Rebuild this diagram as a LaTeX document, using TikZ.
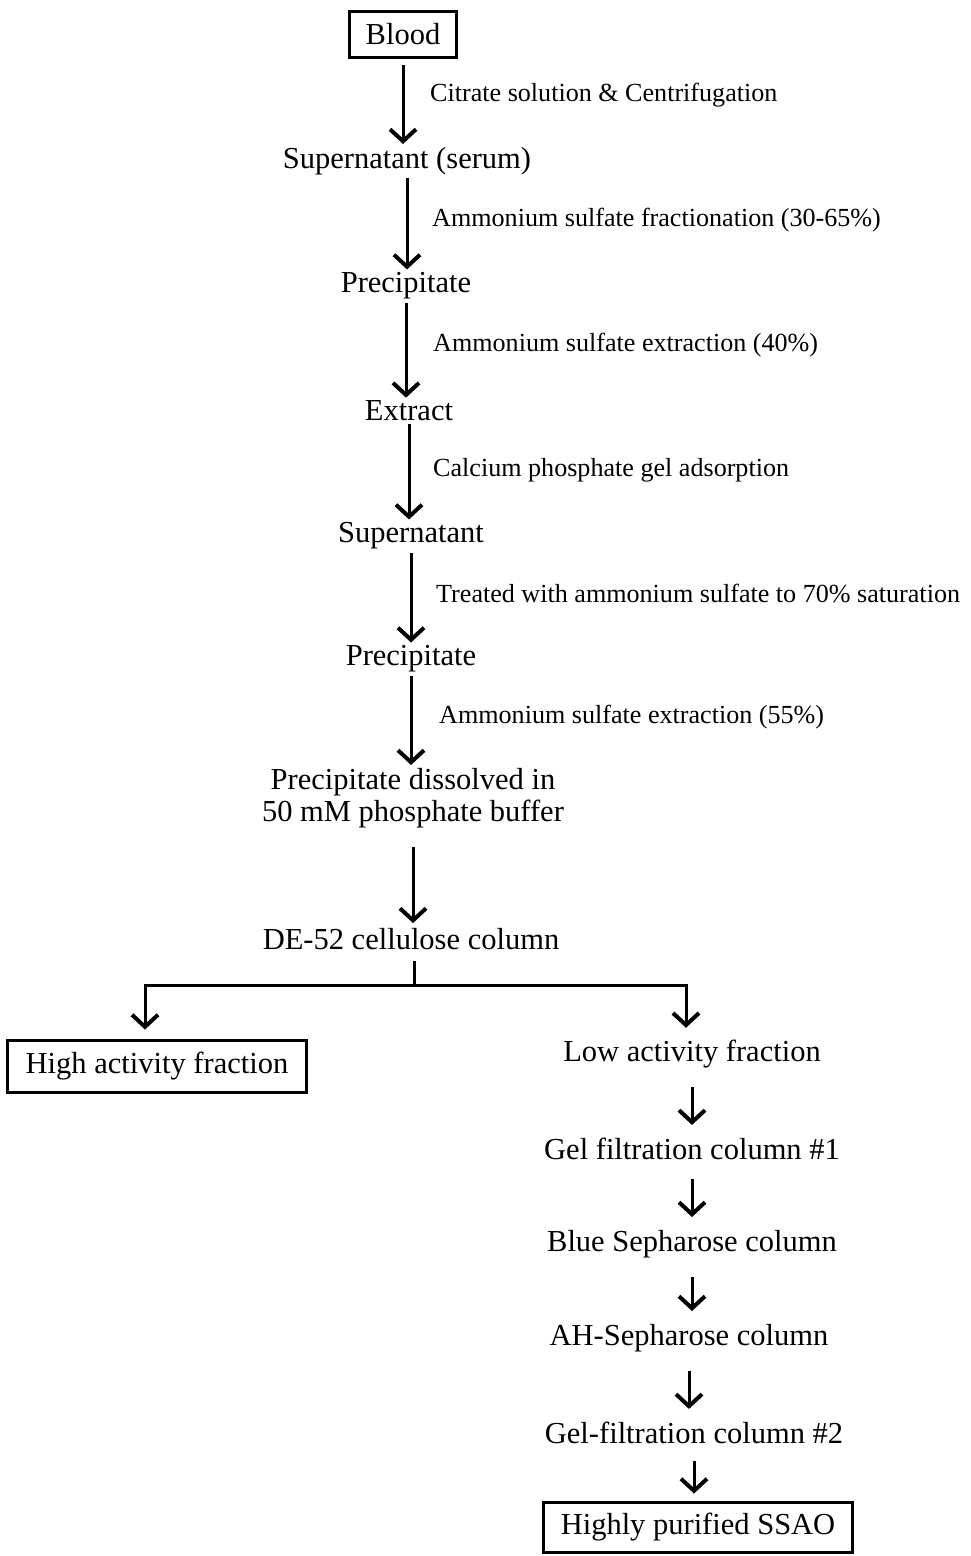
\documentclass[tikz,border=0pt]{standalone}
\usepackage{fontspec}
\setmainfont{Liberation Serif}
\usetikzlibrary{arrows.meta}
\pgfdeclarelayer{edgelayer}
\pgfdeclarelayer{nodelayer}
\pgfsetlayers{edgelayer,nodelayer,main}
\tikzstyle{none}=[inner sep=0pt]
\tikzstyle{stage}=[style=none, font=\fontsize{30.5}{32}\selectfont, align=center]
\tikzstyle{boxed}=[style=stage, draw, line width=3pt, inner xsep=16pt, minimum height=46pt]
\tikzstyle{treat}=[style=none, anchor=west, font=\fontsize{26.1}{30}\selectfont]
\tikzstyle{flow}=[line width=3pt, -{Straight Barb[length=12pt,width=26pt,line width=4pt]}, shorten <=3pt, shorten >=3pt]

\begin{document}
\begin{tikzpicture}[x=1pt,y=-1pt]
	\useasboundingbox (0,0) rectangle (970,1556);
	\begin{pgfonlayer}{nodelayer}
		\node [style=boxed] (0) at (403, 34) {Blood};
		\node [style=stage] (1) at (407, 161) {Supernatant (serum)};
		\node [style=stage] (2) at (406, 286) {Precipitate};
		\node [style=stage] (3) at (409, 411) {Extract};
		\node [style=stage] (4) at (411, 536) {Supernatant};
		\node [style=stage] (5) at (411, 659) {Precipitate};
		\node [style=stage] (6) at (413, 798) {Precipitate dissolved in\\50 mM phosphate buffer};
		\node [style=stage] (7) at (411, 939) {DE-52 cellulose column};
		\node [style=boxed, inner xsep=18pt, minimum height=52pt] (8) at (157, 1066) {High activity fraction};
		\node [style=stage] (9) at (692, 1054) {Low activity fraction};
		\node [style=stage] (10) at (692, 1149) {Gel filtration column \#1};
		\node [style=stage] (11) at (692, 1244) {Blue Sepharose column};
		\node [style=stage] (12) at (689, 1338) {AH-Sepharose column};
		\node [style=stage] (13) at (694, 1433) {Gel-filtration column \#2};
		\node [style=boxed, inner xsep=17pt, minimum height=50pt] (14) at (698, 1527) {Highly purified SSAO};
		\node [style=treat] (15) at (430, 95) {Citrate solution \& Centrifugation};
		\node [style=treat] (16) at (432, 220) {Ammonium sulfate fractionation (30-65\%)};
		\node [style=treat] (17) at (433, 345) {Ammonium sulfate extraction (40\%)};
		\node [style=treat] (18) at (433, 470) {Calcium phosphate gel adsorption};
		\node [style=treat] (19) at (436, 593) {Treated with ammonium sulfate to 70\% saturation};
		\node [style=treat] (20) at (439, 717) {Ammonium sulfate extraction (55\%)};
		\coordinate (21) at (414, 985);
	\end{pgfonlayer}
	\begin{pgfonlayer}{edgelayer}
		\draw [style=flow, shorten <=6pt] (0.south) to (0.south |- 1.north);
		\draw [style=flow] (1.south) to (1.south |- 2.north);
		\draw [style=flow] (2.south) to (2.south |- 3.north);
		\draw [style=flow] (3.south) to (3.south |- 4.north);
		\draw [style=flow] (4.south) to (4.south |- 5.north);
		\draw [style=flow] (5.south) to (5.south |- 6.north);
		\draw [style=flow, shorten <=19pt, shorten >=5pt] (6.south) to (6.south |- 7.north);
		\draw [line width=3pt, shorten <=11pt] (7.south -| 21) to (21);
		\draw [style=flow, shorten <=0pt, shorten >=9pt] (21) -| ([xshift=-12pt]8.north);
		\draw [style=flow, shorten <=0pt, shorten >=12pt] (21) -| ([xshift=-6pt]9.north);
		\draw [style=flow, shorten <=19pt, shorten >=13pt] (9.south) to (9.south |- 10.north);
		\draw [style=flow, shorten <=19pt, shorten >=13pt] (10.south) to (10.south |- 11.north);
		\draw [style=flow, shorten <=19pt, shorten >=13pt] (11.south) to (11.south |- 12.north);
		\draw [style=flow, shorten <=19pt, shorten >=13pt] (12.south) to (12.south |- 13.north);
		\draw [style=flow, shorten <=17pt, shorten >=7pt] (13.south) to (13.south |- 14.north);
	\end{pgfonlayer}
\end{tikzpicture}
\end{document}
